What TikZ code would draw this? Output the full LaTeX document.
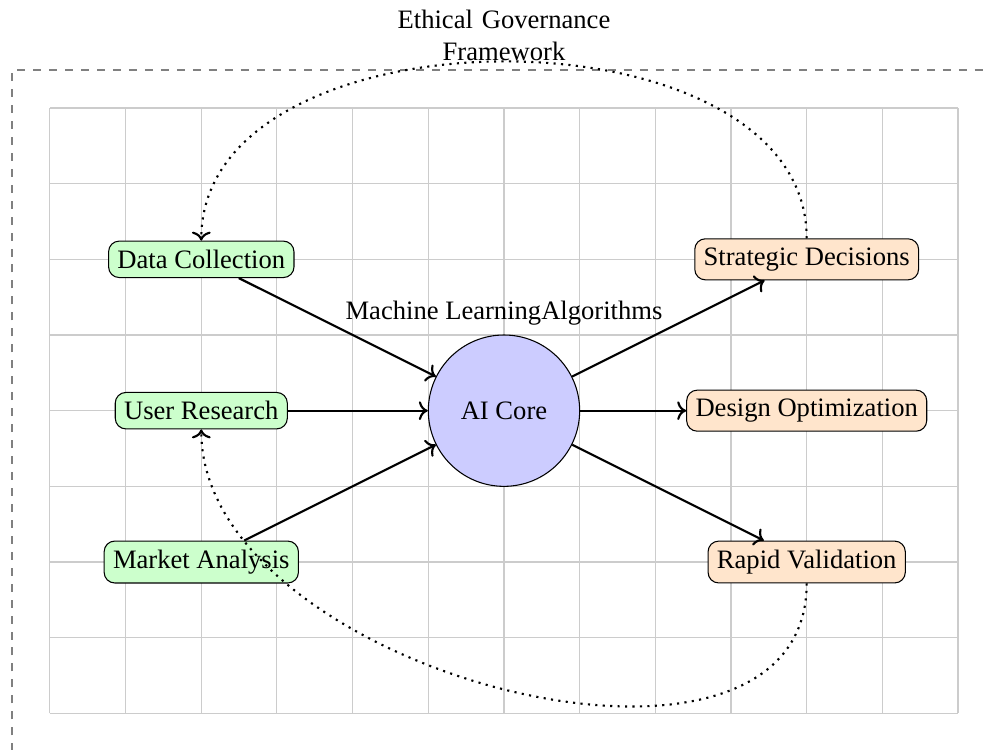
\documentclass[tikz,border=0pt]{standalone}
\usepackage{fontspec}
\setmainfont{Liberation Serif}
\usetikzlibrary{arrows.meta}
\begin{document}
\begin{tikzpicture}[
  inbox/.style={draw, rounded corners, fill=green!20},
  outbox/.style={draw, rounded corners, fill=orange!20},
  core/.style={draw, circle, fill=blue!20, minimum size=2cm},
  flow/.style={->, thick},
  feedback/.style={->, thick, dotted},
]
\useasboundingbox (-6.66,-4.471) rectangle (6.343,5.427);

% background grid
\draw[gray!40, thin] (-6,-4) grid (6,4);

% governance frame
\draw[dashed, thick, gray] (-6.5,-4.5) rectangle (6.5,4.5);
\node[anchor=south, text width=3cm, align=center] (gov) at (0,4.5) {Ethical Governance Framework};

% central processor
\node[core, label={[name=ml]above:Machine LearningAlgorithms}] (ai) at (0,0) {AI Core};

% inputs
\node[inbox] (data) at (-4,2) {Data Collection};
\node[inbox] (user) at (-4,0) {User Research};
\node[inbox] (market) at (-4,-2) {Market Analysis};

% outputs
\node[outbox] (strat) at (4,2) {Strategic Decisions};
\node[outbox] (design) at (4,0) {Design Optimization};
\node[outbox] (rapid) at (4,-2) {Rapid Validation};

% main flows
\draw[flow] (data) -- (ai);
\draw[flow] (user) -- (ai);
\draw[flow] (market) -- (ai);
\draw[flow] (ai) -- (strat);
\draw[flow] (ai) -- (design);
\draw[flow] (ai) -- (rapid);

% feedback loops
\draw[feedback] (strat.north) to[out=90, in=90] (data.north);
\draw[feedback] (rapid.south) to[out=-90, in=-90] (user.south);
\end{tikzpicture}
\end{document}
